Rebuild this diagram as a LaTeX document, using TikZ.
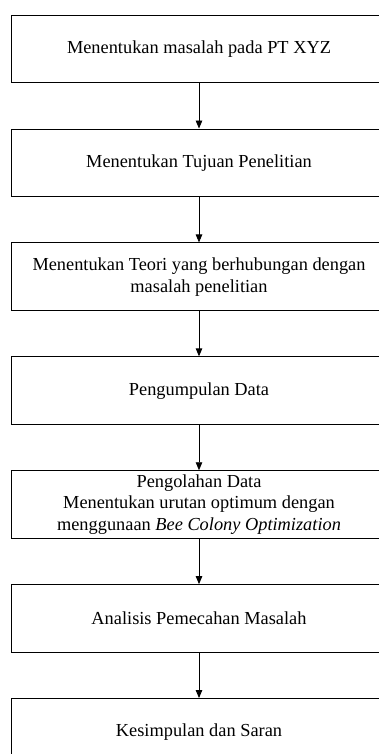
\documentclass[tikz,border=0pt]{standalone}
\usepackage{fontspec}
\setmainfont{Liberation Serif}
\usepackage{tikz}
\usetikzlibrary{positioning,arrows.meta}

\begin{document}
\begin{tikzpicture}[x=1pt, y=1pt,
				box/.style={draw, line width=0.9pt, minimum width=375pt, minimum height=67.8pt, inner sep=0pt, align=center, font=\fontsize{18.35}{21.7}\selectfont},
				arr/.style={-{Triangle[length=8pt, width=6.5pt]}, line width=0.9pt},
				node distance=45.2pt
				]
				
				% ==========================================
				% Batas gambar
				% ==========================================
				\useasboundingbox (0,0) rectangle (379,-754);
				\clip (0,0) rectangle (379,-754);
				
				% ==========================================
				% Kotak-kotak tahapan
				% ==========================================
				\node[box] (masalah) at (199,-49) {Menentukan masalah pada PT XYZ};
				\node[box, below=of masalah] (tujuan) {Menentukan Tujuan Penelitian};
				\node[box, below=of tujuan] (teori) {Menentukan Teori yang berhubungan dengan\\masalah penelitian};
				\node[box, below=of teori] (kumpul) {Pengumpulan Data};
				\node[box, below=of kumpul] (olah) {Pengolahan Data\\Menentukan urutan optimum dengan\\menggunaan \textit{Bee Colony Optimization}};
				\node[box, below=of olah] (analisis) {Analisis Pemecahan Masalah};
				\node[box, below=of analisis] (simpul) {Kesimpulan dan Saran};
				
				% ==========================================
				% Panah
				% ==========================================
				\draw[arr] (masalah) -- (tujuan);
				\draw[arr] (tujuan) -- (teori);
				\draw[arr] (teori) -- (kumpul);
				\draw[arr] (kumpul) -- (olah);
				\draw[arr] (olah) -- (analisis);
				\draw[arr] (analisis) -- (simpul);
				
\end{tikzpicture}
\end{document}
